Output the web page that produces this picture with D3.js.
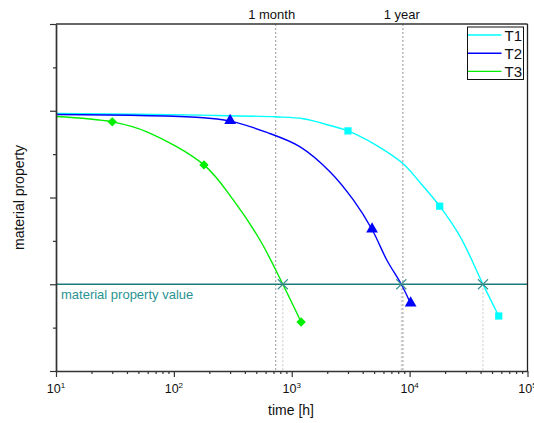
<!DOCTYPE html>
<html>
<head>
<meta charset="utf-8">
<script src="https://cdn.jsdelivr.net/npm/d3@7"></script>
<style>
  html, body { margin: 0; padding: 0; background: #fff; }
  svg { display: block; font-family: "Liberation Sans", Arial, sans-serif; }
</style>
</head>
<body>
<svg id="chart" width="534" height="423"></svg>
<script>
// ---- data (time in hours, property in arbitrary units) ----
const seriesNames = ["T1", "T2", "T3"];
const seriesColors = ["#00ffff", "#0000ff", "#00ee00"];

const curveT1 = [[10, 2.969], [167, 2.949], [723, 2.930], [1256, 2.908], [2118, 2.830], [3000, 2.768], [5100, 2.61], [8770, 2.392], [12300, 2.17], [18000, 1.90], [26900, 1.546], [41900, 1.0], [57000, 0.634]];
const curveT2 = [[10, 2.957], [167, 2.923], [300, 2.88], [615, 2.75], [1178, 2.584], [2118, 2.295], [3342, 1.969], [4800, 1.631], [6416, 1.277], [8500, 1.0], [10200, 0.777]];
const curveT3 = [[10, 2.934], [30, 2.872], [59, 2.757], [180, 2.376], [320, 1.969], [539, 1.507], [840, 1.0], [1200, 0.565]];

const markersT1 = [[3000, 2.768], [18000, 1.90], [57000, 0.634]];
const markersT2 = [[300, 2.88], [4800, 1.631], [10200, 0.777]];
const markersT3 = [[30, 2.872], [180, 2.376], [1200, 0.565]];
const markerShapes = ["square", "triangle", "diamond"];

const thresholdValue = 1;
const thresholdLabel = "material property value";
const crossingTimes = [41900, 8500, 840];

const refTimes = [730, 8760];
const refLabels = ["1 month", "1 year"];

const xMajorTicks = [1e1, 1e2, 1e3, 1e4, 1e5];
const xTickExponents = ["1", "2", "3", "4", "5"];
const yMajorTicks = [0, 1, 2, 3, 4];
const yMinorTicks = [0.5, 1.5, 2.5, 3.5];

const xLabel = "time [h]";
const yLabel = "material property";

// ---- layout ----
const svg = d3.select("#chart");
const L = 56, R = 527.5, T = 24, B = 371;
const x = d3.scaleLog().domain([10, 1e5]).range([L, R]);
const y = d3.scaleLinear().domain([0, 4]).range([B, T]);

const xMinorTicks = [];
for (let d = 10; d < 1e5; d *= 10) for (let k = 2; k <= 9; k++) xMinorTicks.push(d * k);

// reference dotted lines (1 month / 1 year)
svg.append("g").selectAll("line").data(refTimes).join("line")
  .attr("x1", d => x(d)).attr("x2", d => x(d))
  .attr("y1", T).attr("y2", B)
  .attr("stroke", "#a8a8a8").attr("stroke-width", 1.2).attr("stroke-dasharray", "2,2");

svg.append("g").selectAll("text").data(refTimes).join("text")
  .attr("x", (d, i) => x(d) - (i === 0 ? 4 : 1)).attr("y", 19)
  .attr("text-anchor", "middle").attr("font-size", 13).attr("fill", "#111")
  .text((d, i) => refLabels[i]);

// crossing drop lines
svg.append("g").selectAll("line").data(crossingTimes).join("line")
  .attr("x1", d => x(d)).attr("x2", d => x(d))
  .attr("y1", y(thresholdValue)).attr("y2", B)
  .attr("stroke", "#cfcfcf").attr("stroke-width", 1.2).attr("stroke-dasharray", "2,2");

// threshold line
svg.append("line")
  .attr("x1", L).attr("x2", R).attr("y1", y(thresholdValue)).attr("y2", y(thresholdValue))
  .attr("stroke", "#1d7a7a").attr("stroke-width", 1.3);
svg.append("text")
  .attr("x", 61).attr("y", y(thresholdValue) + 14.5)
  .attr("font-size", 13).attr("fill", "#2a9393")
  .text(thresholdLabel);

// curves
const curves = [curveT1, curveT2, curveT3];
const markers = [markersT1, markersT2, markersT3];
const line = d3.line().x(d => x(d[0])).y(d => y(d[1])).curve(d3.curveCatmullRom.alpha(0.5));
svg.append("g").selectAll("path").data(curves).join("path")
  .attr("d", line).attr("fill", "none")
  .attr("stroke", (d, i) => seriesColors[i]).attr("stroke-width", 1.4);

// markers
const symbolFor = {
  square: d3.symbol().type(d3.symbolSquare).size(52),
  triangle: d3.symbol().type(d3.symbolTriangle).size(60),
  diamond: d3.symbol().type(d3.symbolSquare).size(44)
};
markers.forEach((pts, i) => {
  const shape = markerShapes[i];
  svg.append("g").selectAll("path").data(pts).join("path")
    .attr("transform", d => `translate(${x(d[0])},${y(d[1])})` +
      (shape === "triangle" ? " translate(0,-0.5)" : shape === "diamond" ? " rotate(45)" : ""))
    .attr("d", symbolFor[shape]())
    .attr("fill", seriesColors[i]);
});

// crossing X markers
svg.append("g").selectAll("path").data(crossingTimes).join("path")
  .attr("transform", d => `translate(${x(d)},${y(thresholdValue)})`)
  .attr("d", "M-5,-5L5,5M-5,5L5,-5")
  .attr("stroke", "#3d8f8f").attr("stroke-width", 1.1).attr("fill", "none");

// frame: top & right
svg.append("line").attr("x1", L).attr("x2", R).attr("y1", T).attr("y2", T)
  .attr("stroke", "#333").attr("stroke-width", 1.5);
svg.append("line").attr("x1", R).attr("x2", R).attr("y1", T).attr("y2", B)
  .attr("stroke", "#222").attr("stroke-width", 1.3);

// y axis
const yAxisMajor = svg.append("g").attr("transform", `translate(${L},0)`)
  .call(d3.axisLeft(y).tickValues(yMajorTicks).tickSize(6).tickSizeOuter(0).tickFormat(""));
const yAxisMinor = svg.append("g").attr("transform", `translate(${L},0)`)
  .call(d3.axisLeft(y).tickValues(yMinorTicks).tickSize(3).tickSizeOuter(0).tickFormat(""));
yAxisMinor.select(".domain").remove();

// x axis
const xAxisMajor = svg.append("g").attr("transform", `translate(0,${B})`)
  .call(d3.axisBottom(x).tickValues(xMajorTicks).tickSize(6).tickSizeOuter(0).tickFormat(""));
const xAxisMinor = svg.append("g").attr("transform", `translate(0,${B})`)
  .call(d3.axisBottom(x).tickValues(xMinorTicks).tickSize(3).tickSizeOuter(0).tickFormat(""));
xAxisMinor.select(".domain").remove();

[yAxisMajor, yAxisMinor, xAxisMajor, xAxisMinor].forEach(g => {
  g.selectAll(".domain").attr("stroke", "#333").attr("stroke-width", 1.7);
  g.selectAll(".tick line").attr("stroke", "#333").attr("stroke-width", 1.2);
});

// x tick labels with superscripts
const xl = svg.append("g").selectAll("text").data(xMajorTicks).join("text")
  .attr("x", d => x(d)).attr("y", 393).attr("text-anchor", "middle")
  .attr("font-size", 12.5).attr("fill", "#111");
xl.append("tspan").text("10");
xl.append("tspan").attr("font-size", 8).attr("dy", -5).text((d, i) => xTickExponents[i]);

// axis titles
svg.append("text").attr("x", 291).attr("y", 415).attr("text-anchor", "middle")
  .attr("font-size", 14).attr("fill", "#111").text(xLabel);
svg.append("text").attr("transform", `translate(24,${(T + B) / 2}) rotate(-90)`)
  .attr("text-anchor", "middle").attr("font-size", 14).attr("fill", "#111").text(yLabel);

// legend
const lg = svg.append("g");
lg.append("rect").attr("x", 467.5).attr("y", 27).attr("width", 56).attr("height", 52.5)
  .attr("fill", "#fff").attr("stroke", "#111").attr("stroke-width", 1);
seriesNames.forEach((n, i) => {
  const yy = 35 + i * 18.2;
  lg.append("line").attr("x1", 468).attr("x2", 501.5).attr("y1", yy).attr("y2", yy)
    .attr("stroke", seriesColors[i]).attr("stroke-width", 1.4);
  lg.append("text").attr("x", 504.5).attr("y", yy + 5.5).attr("font-size", 15)
    .attr("fill", "#111").text(n);
});
</script>
</body>
</html>
